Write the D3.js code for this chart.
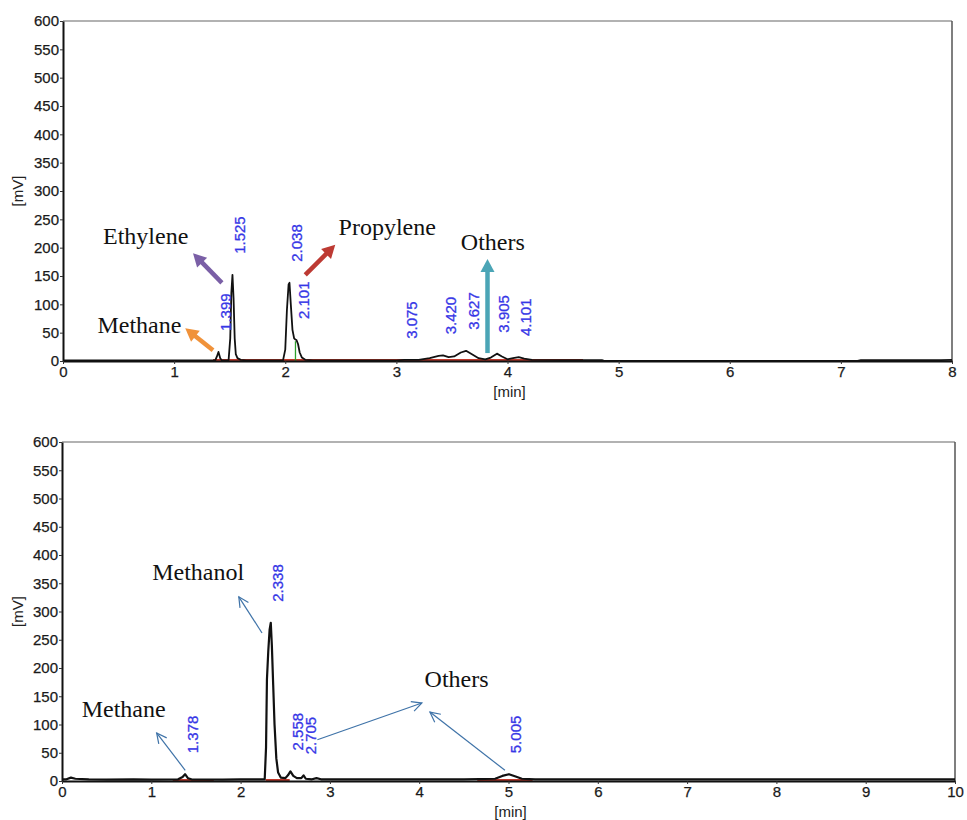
<!DOCTYPE html>
<html lang="en">
<head>
<meta charset="UTF-8">
<title>Chromatograms</title>
<style>
  body { margin: 0; background: #fff; }
  .tick text { font-family: "Liberation Sans", Arial, sans-serif; font-size: 15px; fill: #1a1a1a; stroke: #1a1a1a; stroke-width: 0.25px; }
</style>
</head>
<body>
<div id="wrapper"></div>
<script src="https://d3js.org/d3.v7.min.js"></script>
<script>
// ---- data ----
// top chromatogram: [time min, signal mV]
const topTrace = [
  [0, 1], [1.0, 1], [1.37, 1], [1.385, 8], [1.399, 16], [1.415, 5], [1.43, 1], [1.49, 1],
  [1.505, 40], [1.515, 120], [1.525, 152], [1.535, 110], [1.545, 40], [1.555, 12], [1.57, 5],
  [1.6, 2], [1.65, 1], [1.98, 1], [2.0, 20], [2.015, 90], [2.03, 135], [2.038, 138], [2.05, 100],
  [2.065, 55], [2.08, 40], [2.09, 38], [2.101, 37], [2.115, 30], [2.13, 15], [2.15, 6], [2.18, 2],
  [2.25, 1], [3.0, 1], [3.075, 2], [3.2, 2], [3.3, 5], [3.38, 9], [3.42, 10], [3.47, 7], [3.52, 8],
  [3.58, 15], [3.627, 18], [3.68, 12], [3.74, 5], [3.8, 3], [3.85, 6], [3.905, 13], [3.95, 8],
  [4.0, 3], [4.05, 5], [4.101, 7], [4.15, 4], [4.22, 2], [4.5, 1.5], [4.85, 1.5], [4.87, 0.3],
  [7.15, 0.3], [7.18, 1.5], [7.9, 1.5], [8, 2]
];
const topPeakTimes = [1.399, 1.525, 2.038, 2.101, 3.075, 3.420, 3.627, 3.905, 4.101];
const topPeakHeights = [16, 152, 138, 37, 2, 10, 18, 13, 7];
const topPeakLabels = ["1.399", "1.525", "2.038", "2.101", "3.075", "3.420", "3.627", "3.905", "4.101"];
const topBaselines = [[1.35, 4.68]];
const topDropLines = [2.101];

// bottom chromatogram
const bottomTrace = [
  [0, 3], [0.05, 3], [0.1, 6], [0.15, 4], [0.3, 3], [0.5, 2.5], [0.8, 3], [1.0, 2.5], [1.3, 3],
  [1.35, 7], [1.378, 12], [1.41, 5], [1.45, 3], [1.8, 2.5], [2.0, 3], [2.27, 3], [2.285, 60],
  [2.295, 180], [2.31, 230], [2.325, 268], [2.338, 280], [2.35, 240], [2.365, 170], [2.38, 100],
  [2.40, 40], [2.42, 15], [2.45, 6], [2.5, 5], [2.53, 10], [2.558, 17], [2.59, 9], [2.63, 5],
  [2.68, 5], [2.705, 10], [2.73, 4], [2.8, 3], [2.85, 5], [2.9, 3], [3.5, 3], [4.0, 3], [4.5, 3],
  [4.85, 4], [4.93, 9], [5.005, 12], [5.08, 8], [5.15, 4], [5.3, 3], [6, 3], [7, 3], [8, 3],
  [9, 3], [10, 3]
];
const bottomPeakTimes = [1.378, 2.338, 2.558, 2.705, 5.005];
const bottomPeakHeights = [12, 280, 17, 10, 12];
const bottomPeakLabels = ["1.378", "2.338", "2.558", "2.705", "5.005"];
const bottomBaselines = [[1.24, 1.7], [2.28, 2.55], [4.65, 5.27]];

const yTicks = d3.range(0, 601, 50);
const topXTicks = d3.range(0, 9, 1);
const bottomXTicks = d3.range(0, 11, 1);

// annotations in data coordinates: label, text [t, mV], arrow from [t,mV] to [t,mV]
const topNotes = [
  { label: "Ethylene", at: [0.36, 206], arrows: [[[1.43, 138], [1.17, 190]]], color: "#7a5fa6" },
  { label: "Methane", at: [0.31, 49], arrows: [[[1.35, 19], [1.10, 58]]], color: "#f0923a" },
  { label: "Propylene", at: [2.48, 222], arrows: [[[2.18, 152], [2.45, 205]]], color: "#bd3a33" },
  { label: "Others", at: [3.58, 196], arrows: [[[3.82, 14], [3.82, 180]]], color: "#4ba5b6" }
];
const bottomNotes = [
  { label: "Methanol", at: [1.01, 356], arrows: [[[2.24, 262], [1.98, 326]]], color: "#3f73a8" },
  { label: "Methane", at: [0.22, 113], arrows: [[[1.38, 19], [1.06, 85]]], color: "#3f73a8" },
  { label: "Others", at: [4.06, 166], arrows: [[[2.86, 73], [4.03, 138]], [[4.96, 19], [4.12, 122]]], color: "#3f73a8" }
];

const svg = d3.select('#wrapper').append('svg')
  .attr('width', 967).attr('height', 820);

function drawChart(o) {
  const x = d3.scaleLinear().domain(o.xDomain).range([o.left, o.right]);
  const y = d3.scaleLinear().domain([0, 600]).range([o.bottom, o.top]);
  const g = svg.append('g');

  // frame (top / right)
  g.append('line').attr('x1', o.left).attr('x2', o.right).attr('y1', o.top).attr('y2', o.top)
    .attr('stroke', '#999').attr('stroke-width', 1.5);
  g.append('line').attr('x1', o.right).attr('x2', o.right).attr('y1', o.top).attr('y2', o.bottom)
    .attr('stroke', '#555').attr('stroke-width', 1.5);

  // integration baselines (red) and drop lines (green)
  o.baselines.forEach(b => {
    g.append('line').attr('x1', x(b[0])).attr('x2', x(b[1]))
      .attr('y1', y(0) - 1).attr('y2', y(0) - 1)
      .attr('stroke', '#c0392b').attr('stroke-width', 2);
  });
  (o.drops || []).forEach(t => {
    const h = o.peakHeights[o.peakTimes.indexOf(t)];
    g.append('line').attr('x1', x(t) - 1).attr('x2', x(t) - 1).attr('y1', y(0)).attr('y2', y(h - 2))
      .attr('stroke', '#2ca02c').attr('stroke-width', 1.3);
  });

  // trace
  const line = d3.line().x(d => x(d[0])).y(d => y(d[1]));
  g.append('path').datum(o.trace).attr('d', line)
    .attr('fill', 'none').attr('stroke', '#111').attr('stroke-width', o.traceWidth)
    .attr('stroke-linejoin', 'round');

  // axes
  const yAxis = g.append('g').attr('transform', `translate(${o.left},0)`)
    .call(d3.axisLeft(y).tickValues(yTicks).tickSize(3).tickPadding(1).tickSizeOuter(0));
  yAxis.select('.domain').attr('stroke', '#111').attr('stroke-width', 2);
  yAxis.selectAll('.tick line').attr('stroke', '#333');

  const xAxis = g.append('g').attr('transform', `translate(0,${o.bottom})`)
    .call(d3.axisBottom(x).tickValues(o.xTicks).tickSize(3).tickPadding(2).tickSizeOuter(0));
  xAxis.select('.domain').attr('stroke', '#111').attr('stroke-width', 2);
  xAxis.selectAll('.tick line').attr('stroke', '#333');

  // axis titles
  g.append('text').text('[mV]')
    .attr('transform', `translate(23,${(o.top + o.bottom) / 2}) rotate(-90)`)
    .attr('text-anchor', 'middle')
    .style('font-family', '"Liberation Sans", Arial, sans-serif').style('font-size', '15px').style('fill', '#222');
  g.append('text').text('[min]')
    .attr('x', (o.left + o.right) / 2 + 2).attr('y', o.bottom + 36)
    .attr('text-anchor', 'middle')
    .style('font-family', '"Liberation Sans", Arial, sans-serif').style('font-size', '15px').style('fill', '#222');

  // peak labels (rotated, blue)
  o.peakTimes.forEach((t, i) => {
    const px = x(t) + 7, py = y(o.peakHeights[i]) - 21;
    g.append('text').text(o.peakLabels[i])
      .attr('transform', `translate(${px},${py}) rotate(-90)`)
      .attr('dominant-baseline', 'central')
      .style('font-family', '"Liberation Sans", Arial, sans-serif').style('font-size', '15px')
      .style('fill', '#3636e6').style('stroke', '#3636e6').style('stroke-width', '0.3px');
  });

  // annotations
  o.notes.forEach(n => {
    g.append('text').text(n.label).attr('x', x(n.at[0])).attr('y', y(n.at[1]))
      .style('font-family', '"Liberation Serif", "Times New Roman", serif')
      .style('font-size', '24px').style('fill', '#111');
    n.arrows.forEach(a => {
      const x1 = x(a[0][0]), y1 = y(a[0][1]), x2 = x(a[1][0]), y2 = y(a[1][1]);
      const ang = Math.atan2(y2 - y1, x2 - x1);
      const c = Math.cos(ang), s = Math.sin(ang);
      if (o.thick) {
        const hl = 13, hw = 7;
        g.append('line').attr('x1', x1).attr('y1', y1)
          .attr('x2', x2 - c * (hl - 2)).attr('y2', y2 - s * (hl - 2))
          .attr('stroke', n.color).attr('stroke-width', 4.5);
        const bx = x2 - c * hl, by = y2 - s * hl;
        g.append('path')
          .attr('d', `M${x2},${y2}L${bx - s * hw},${by + c * hw}L${bx + s * hw},${by - c * hw}Z`)
          .attr('fill', n.color);
      } else {
        const hl = 10, hw = 5;
        g.append('line').attr('x1', x1).attr('y1', y1).attr('x2', x2).attr('y2', y2)
          .attr('stroke', n.color).attr('stroke-width', 1.2);
        const bx = x2 - c * hl, by = y2 - s * hl;
        g.append('path')
          .attr('d', `M${bx - s * hw},${by + c * hw}L${x2},${y2}L${bx + s * hw},${by - c * hw}`)
          .attr('fill', 'none').attr('stroke', n.color).attr('stroke-width', 1.2);
      }
    });
  });
}

drawChart({
  xDomain: [0, 8], xTicks: topXTicks, left: 63, right: 952, top: 21, bottom: 361,
  trace: topTrace, traceWidth: 1.8,
  peakTimes: topPeakTimes, peakHeights: topPeakHeights, peakLabels: topPeakLabels,
  baselines: topBaselines, drops: topDropLines, notes: topNotes, thick: true
});
drawChart({
  xDomain: [0, 10], xTicks: bottomXTicks, left: 62, right: 955, top: 442, bottom: 781,
  trace: bottomTrace, traceWidth: 2.2,
  peakTimes: bottomPeakTimes, peakHeights: bottomPeakHeights, peakLabels: bottomPeakLabels,
  baselines: bottomBaselines, notes: bottomNotes, thick: false
});
</script>
</body>
</html>
